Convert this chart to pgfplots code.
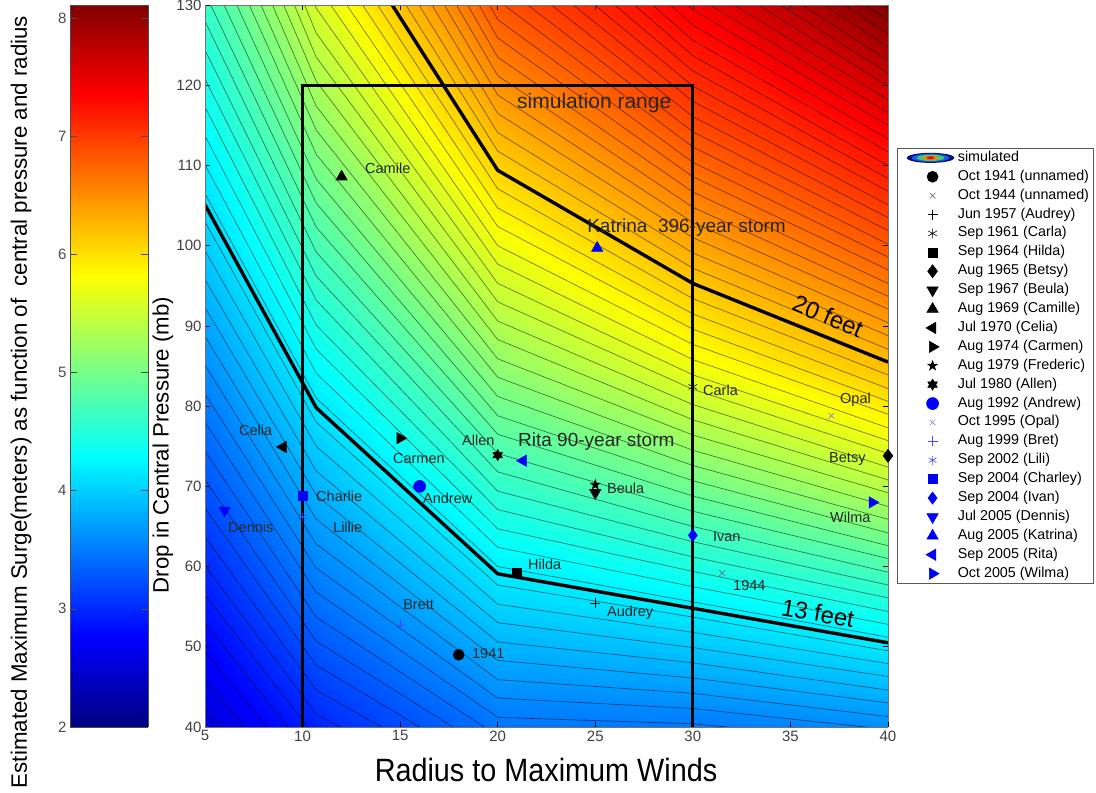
\documentclass[border=0pt]{standalone}
\usepackage{fontspec}
\setmainfont{Liberation Sans}
\usepackage{pgfplots}
\pgfplotsset{compat=1.18}
\newcommand{\fs}[1]{\fontsize{#1}{#1}\selectfont}
\definecolor{sblue}{RGB}{0,0,255}
\definecolor{gx}{RGB}{110,110,135}
\definecolor{opal}{RGB}{135,135,205}
\definecolor{lb}{RGB}{70,70,255}
\definecolor{e1}{RGB}{10,10,125}
\definecolor{e2}{RGB}{20,90,230}
\definecolor{e3}{RGB}{60,200,120}
\definecolor{e4}{RGB}{235,140,0}
\definecolor{e5}{RGB}{200,25,10}
\pgfdeclareplotmark{fivestar}{%
  \pgfpathmoveto{\pgfpointpolar{90}{\pgfplotmarksize}}%
  \pgfpathlineto{\pgfpointpolar{126}{0.4\pgfplotmarksize}}%
  \pgfpathlineto{\pgfpointpolar{162}{\pgfplotmarksize}}%
  \pgfpathlineto{\pgfpointpolar{198}{0.4\pgfplotmarksize}}%
  \pgfpathlineto{\pgfpointpolar{234}{\pgfplotmarksize}}%
  \pgfpathlineto{\pgfpointpolar{270}{0.4\pgfplotmarksize}}%
  \pgfpathlineto{\pgfpointpolar{306}{\pgfplotmarksize}}%
  \pgfpathlineto{\pgfpointpolar{342}{0.4\pgfplotmarksize}}%
  \pgfpathlineto{\pgfpointpolar{18}{\pgfplotmarksize}}%
  \pgfpathlineto{\pgfpointpolar{54}{0.4\pgfplotmarksize}}%
  \pgfpathclose\pgfusepathqfillstroke}
\pgfdeclareplotmark{sixstar}{%
  \pgfpathmoveto{\pgfpointpolar{90}{\pgfplotmarksize}}%
  \pgfpathlineto{\pgfpointpolar{120}{0.577\pgfplotmarksize}}%
  \pgfpathlineto{\pgfpointpolar{150}{\pgfplotmarksize}}%
  \pgfpathlineto{\pgfpointpolar{180}{0.577\pgfplotmarksize}}%
  \pgfpathlineto{\pgfpointpolar{210}{\pgfplotmarksize}}%
  \pgfpathlineto{\pgfpointpolar{240}{0.577\pgfplotmarksize}}%
  \pgfpathlineto{\pgfpointpolar{270}{\pgfplotmarksize}}%
  \pgfpathlineto{\pgfpointpolar{300}{0.577\pgfplotmarksize}}%
  \pgfpathlineto{\pgfpointpolar{330}{\pgfplotmarksize}}%
  \pgfpathlineto{\pgfpointpolar{0}{0.577\pgfplotmarksize}}%
  \pgfpathlineto{\pgfpointpolar{30}{\pgfplotmarksize}}%
  \pgfpathlineto{\pgfpointpolar{60}{0.577\pgfplotmarksize}}%
  \pgfpathclose\pgfusepathqfillstroke}
\pgfplotsset{
  stm/.style={only marks, line width=0.6pt,
    legend image code/.code={\path (0pt,-5pt) (56pt,5pt);
      \draw[##1] plot coordinates {(33pt,0pt)};}},
}
\begin{document}
\begin{tikzpicture}
\path[use as bounding box] (0pt,0pt) rectangle (1096pt,793pt);

% ---------- colour bar ----------
\begin{axis}[
  at={(70pt,66pt)}, anchor=south west, scale only axis,
  width=78pt, height=722pt, view={0}{90},
  xmin=0, xmax=1, ymin=2, ymax=8.11,
  xtick=\empty, ztick=\empty, ytick={2,3,...,8},
  tick align=inside, major tick length=7pt,
  tick style={black!70, line width=0.6pt},
  axis line style={black!70, line width=0.6pt},
  yticklabel style={font=\fs{15}, text=black!70},
  /pgf/number format/assume math mode=true,
  colormap/jet, point meta min=2, point meta max=8.11,
  axis on top]
\addplot3[surf, shader=interp, mesh/cols=2, mesh/rows=14] table[row sep=\\]{
x y z\\
0 2 2\\ 1 2 2\\
0 2.5 2.5\\ 1 2.5 2.5\\
0 3 3\\ 1 3 3\\
0 3.5 3.5\\ 1 3.5 3.5\\
0 4 4\\ 1 4 4\\
0 4.5 4.5\\ 1 4.5 4.5\\
0 5 5\\ 1 5 5\\
0 5.5 5.5\\ 1 5.5 5.5\\
0 6 6\\ 1 6 6\\
0 6.5 6.5\\ 1 6.5 6.5\\
0 7 7\\ 1 7 7\\
0 7.5 7.5\\ 1 7.5 7.5\\
0 8 8\\ 1 8 8\\
0 8.11 8.11\\ 1 8.11 8.11\\
};
\end{axis}

% ---------- main plot ----------
\begin{axis}[
  at={(205pt,66pt)}, anchor=south west, scale only axis,
  width=683pt, height=722pt, view={0}{90},
  xmin=5, xmax=40, ymin=40, ymax=130,
  xtick={5,10,...,40}, ytick={40,50,...,130}, ztick=\empty,
  tick align=inside, major tick length=5pt,
  tick style={black, line width=0.6pt},
  axis line style={black!55, line width=0.6pt},
  tick label style={font=\fs{15}, text=black!75},
  /pgf/number format/assume math mode=true,
  colormap/jet, point meta min=1.5, point meta max=8.4,
  axis on top,
  legend cell align=left,
  legend style={at={(1.01318,0.80194)}, anchor=north west,
    draw=black!65, line width=0.6pt, fill=white,
    inner xsep=2pt, inner ysep=3pt, font=\fs{14.3},
    row sep=5.9pt, column sep=0pt,
    nodes={inner xsep=2pt, inner ysep=0pt, text height=10pt, text depth=3pt}},
]
% simulated surge field (colour)
\addplot3[surf, shader=interp, forget plot, mesh/cols=9, mesh/rows=7] table[row sep=\\]{
x y z\\
5 40 2.10\\ 7.85 40 2.35\\ 10.7 40 2.60\\ 15.35 40 2.88\\ 20 40 3.15\\ 25 40 3.16\\ 30 40 3.18\\ 35 40 3.25\\ 40 40 3.32\\
5 55 2.50\\ 7.85 55 2.80\\ 10.7 55 3.10\\ 15.35 55 3.44\\ 20 55 3.79\\ 25 55 3.88\\ 30 55 3.99\\ 35 55 4.12\\ 40 55 4.26\\
5 70 2.92\\ 7.85 70 3.25\\ 10.7 70 3.58\\ 15.35 70 4.00\\ 20 70 4.42\\ 25 70 4.62\\ 30 70 4.85\\ 35 70 5.10\\ 40 70 5.35\\
5 85 3.33\\ 7.85 85 3.70\\ 10.7 85 4.08\\ 15.35 85 4.57\\ 20 85 5.06\\ 25 85 5.38\\ 30 85 5.72\\ 35 85 6.00\\ 40 85 6.25\\
5 100 3.75\\ 7.85 100 4.15\\ 10.7 100 4.57\\ 15.35 100 5.13\\ 20 100 5.70\\ 25 100 6.05\\ 30 100 6.40\\ 35 100 6.68\\ 40 100 6.95\\
5 115 4.10\\ 7.85 115 4.58\\ 10.7 115 5.05\\ 15.35 115 5.70\\ 20 115 6.34\\ 25 115 6.70\\ 30 115 7.05\\ 35 115 7.30\\ 40 115 7.60\\
5 130 4.45\\ 7.85 130 5.00\\ 10.7 130 5.55\\ 15.35 130 6.28\\ 20 130 6.98\\ 25 130 7.30\\ 30 130 7.60\\ 35 130 8.00\\ 40 130 8.40\\
};
% contour lines (every 0.1 m)
\addplot[forget plot, black, opacity=0.55, line width=0.65pt, unbounded coords=jump] table[row sep=\\]{
x y\\
5 42.3\\ 10.7 26.4\\ 20 17.7\\ 30 21.5\\ 40 21.7\\ nan nan\\
5 45.8\\ 10.7 29.5\\ 20 20.1\\ 30 23.4\\ 40 23.4\\ nan nan\\
5 49.4\\ 10.7 32.5\\ 20 22.4\\ 30 25.3\\ 40 25.0\\ nan nan\\
5 53.0\\ 10.7 35.5\\ 20 24.8\\ 30 27.2\\ 40 26.6\\ nan nan\\
5 56.5\\ 10.7 38.6\\ 20 27.1\\ 30 29.1\\ 40 28.3\\ nan nan\\
5 60.1\\ 10.7 41.6\\ 20 29.5\\ 30 31.0\\ 40 29.9\\ nan nan\\
5 63.7\\ 10.7 44.6\\ 20 31.8\\ 30 32.9\\ 40 31.5\\ nan nan\\
5 67.3\\ 10.7 47.7\\ 20 34.2\\ 30 34.7\\ 40 33.2\\ nan nan\\
5 70.8\\ 10.7 50.7\\ 20 36.5\\ 30 36.6\\ 40 34.8\\ nan nan\\
5 74.4\\ 10.7 53.7\\ 20 38.9\\ 30 38.5\\ 40 36.4\\ nan nan\\
5 78.0\\ 10.7 56.8\\ 20 41.2\\ 30 40.4\\ 40 38.1\\ nan nan\\
5 81.5\\ 10.7 59.8\\ 20 43.6\\ 30 42.3\\ 40 39.7\\ nan nan\\
5 85.1\\ 10.7 62.8\\ 20 45.9\\ 30 44.2\\ 40 41.3\\ nan nan\\
5 88.7\\ 10.7 65.9\\ 20 48.3\\ 30 46.1\\ 40 43.0\\ nan nan\\
5 92.3\\ 10.7 68.9\\ 20 50.6\\ 30 48.0\\ 40 44.6\\ nan nan\\
5 95.8\\ 10.7 71.9\\ 20 53.0\\ 30 49.9\\ 40 46.3\\ nan nan\\
5 99.4\\ 10.7 75.0\\ 20 55.3\\ 30 51.8\\ 40 47.9\\ nan nan\\
5 103.0\\ 10.7 78.0\\ 20 57.7\\ 30 53.7\\ 40 49.5\\ nan nan\\
5 106.5\\ 10.7 81.0\\ 20 60.0\\ 30 55.6\\ 40 51.2\\ nan nan\\
5 110.1\\ 10.7 84.1\\ 20 62.4\\ 30 57.5\\ 40 52.8\\ nan nan\\
5 113.7\\ 10.7 87.1\\ 20 64.7\\ 30 59.4\\ 40 54.4\\ nan nan\\
5 117.3\\ 10.7 90.1\\ 20 67.1\\ 30 61.2\\ 40 56.1\\ nan nan\\
5 120.8\\ 10.7 93.2\\ 20 69.4\\ 30 63.1\\ 40 57.7\\ nan nan\\
5 124.4\\ 10.7 96.2\\ 20 71.8\\ 30 65.0\\ 40 59.3\\ nan nan\\
5 128.0\\ 10.7 99.2\\ 20 74.1\\ 30 66.9\\ 40 61.0\\ nan nan\\
5 131.5\\ 10.7 102.3\\ 20 76.5\\ 30 68.8\\ 40 62.6\\ nan nan\\
5 135.1\\ 10.7 105.3\\ 20 78.8\\ 30 70.7\\ 40 64.2\\ nan nan\\
5 138.7\\ 10.7 108.3\\ 20 81.2\\ 30 72.6\\ 40 65.9\\ nan nan\\
5 142.3\\ 10.7 111.4\\ 20 83.6\\ 30 74.5\\ 40 67.5\\ nan nan\\
5 145.8\\ 10.7 114.4\\ 20 85.9\\ 30 76.4\\ 40 69.2\\ nan nan\\
5 149.4\\ 10.7 117.4\\ 20 88.3\\ 30 78.3\\ 40 70.8\\ nan nan\\
5 153.0\\ 10.7 120.5\\ 20 90.6\\ 30 80.2\\ 40 72.4\\ nan nan\\
5 156.5\\ 10.7 123.5\\ 20 93.0\\ 30 82.1\\ 40 74.1\\ nan nan\\
5 160.1\\ 10.7 126.5\\ 20 95.3\\ 30 83.9\\ 40 75.7\\ nan nan\\
5 163.7\\ 10.7 129.6\\ 20 97.7\\ 30 85.8\\ 40 77.3\\ nan nan\\
5 167.2\\ 10.7 132.6\\ 20 100.0\\ 30 87.7\\ 40 79.0\\ nan nan\\
5 170.8\\ 10.7 135.6\\ 20 102.4\\ 30 89.6\\ 40 80.6\\ nan nan\\
5 174.4\\ 10.7 138.7\\ 20 104.7\\ 30 91.5\\ 40 82.2\\ nan nan\\
5 178.0\\ 10.7 141.7\\ 20 107.1\\ 30 93.4\\ 40 83.9\\ nan nan\\
5 181.5\\ 10.7 144.7\\ 20 109.4\\ 30 95.3\\ 40 85.5\\ nan nan\\
5 185.1\\ 10.7 147.8\\ 20 111.8\\ 30 97.2\\ 40 87.1\\ nan nan\\
5 188.7\\ 10.7 150.8\\ 20 114.1\\ 30 99.1\\ 40 88.8\\ nan nan\\
5 192.2\\ 10.7 153.8\\ 20 116.5\\ 30 101.0\\ 40 90.4\\ nan nan\\
5 195.8\\ 10.7 156.9\\ 20 118.8\\ 30 102.9\\ 40 92.1\\ nan nan\\
5 199.4\\ 10.7 159.9\\ 20 121.2\\ 30 104.8\\ 40 93.7\\ nan nan\\
5 203.0\\ 10.7 162.9\\ 20 123.5\\ 30 106.7\\ 40 95.3\\ nan nan\\
5 206.5\\ 10.7 166.0\\ 20 125.9\\ 30 108.6\\ 40 97.0\\ nan nan\\
5 210.1\\ 10.7 169.0\\ 20 128.2\\ 30 110.4\\ 40 98.6\\ nan nan\\
5 213.7\\ 10.7 172.0\\ 20 130.6\\ 30 112.3\\ 40 100.2\\ nan nan\\
5 217.2\\ 10.7 175.1\\ 20 132.9\\ 30 114.2\\ 40 101.9\\ nan nan\\
5 220.8\\ 10.7 178.1\\ 20 135.3\\ 30 116.1\\ 40 103.5\\ nan nan\\
5 224.4\\ 10.7 181.1\\ 20 137.6\\ 30 118.0\\ 40 105.1\\ nan nan\\
5 228.0\\ 10.7 184.2\\ 20 140.0\\ 30 119.9\\ 40 106.8\\ nan nan\\
5 231.5\\ 10.7 187.2\\ 20 142.3\\ 30 121.8\\ 40 108.4\\ nan nan\\
5 235.1\\ 10.7 190.2\\ 20 144.7\\ 30 123.7\\ 40 110.0\\ nan nan\\
5 238.7\\ 10.7 193.3\\ 20 147.0\\ 30 125.6\\ 40 111.7\\ nan nan\\
5 242.2\\ 10.7 196.3\\ 20 149.4\\ 30 127.5\\ 40 113.3\\ nan nan\\
5 245.8\\ 10.7 199.3\\ 20 151.7\\ 30 129.4\\ 40 115.0\\ nan nan\\
5 249.4\\ 10.7 202.4\\ 20 154.1\\ 30 131.3\\ 40 116.6\\ nan nan\\
5 253.0\\ 10.7 205.4\\ 20 156.4\\ 30 133.2\\ 40 118.2\\ nan nan\\
5 256.5\\ 10.7 208.4\\ 20 158.8\\ 30 135.1\\ 40 119.9\\ nan nan\\
5 260.1\\ 10.7 211.5\\ 20 161.1\\ 30 137.0\\ 40 121.5\\ nan nan\\
5 263.7\\ 10.7 214.5\\ 20 163.5\\ 30 138.8\\ 40 123.1\\ nan nan\\
5 267.2\\ 10.7 217.5\\ 20 165.8\\ 30 140.7\\ 40 124.8\\ nan nan\\
5 270.8\\ 10.7 220.6\\ 20 168.2\\ 30 142.6\\ 40 126.4\\ nan nan\\
5 274.4\\ 10.7 223.6\\ 20 170.5\\ 30 144.5\\ 40 128.1\\ nan nan\\
5 278.0\\ 10.7 226.6\\ 20 172.9\\ 30 146.4\\ 40 129.7\\
};
% 13 ft and 20 ft lines, simulation range box
\addplot[forget plot, black, line width=3.4pt] coordinates {(5,105.1) (10.7,79.8) (20,59.1) (40,50.5)};
\addplot[forget plot, black, line width=3.4pt] coordinates {(14.07,132) (20,109.4) (30,95.3) (40,85.5)};
\addplot[forget plot, black, line width=3pt] coordinates {(10,36) (10,120) (30,120) (30,36)};

% legend entry for the field
\addlegendimage{legend image code/.code={\path (0pt,-5pt) (56pt,5pt);
  \fill[e1, draw=none] (31pt,0pt) ellipse (24pt and 5pt);
  \fill[e2, draw=none] (31pt,0pt) ellipse (19pt and 4pt);
  \fill[e3, draw=none] (31pt,0pt) ellipse (14pt and 3.2pt);
  \fill[e4, draw=none] (31pt,0pt) ellipse (8pt and 2.3pt);
  \fill[e5, draw=none] (31pt,0pt) ellipse (4pt and 1.5pt);}}
\addlegendentry{simulated}

% historical storms
\addplot[stm, black, mark=*, mark size=5.5pt] coordinates {(18,49.0)};
\addlegendentry{Oct 1941 (unnamed)}
\addplot[stm, gx, mark=x, mark size=4pt] coordinates {(31.5,59.2)};
\addlegendentry{Oct 1944 (unnamed)}
\addplot[stm, black, mark=+, mark size=5pt] coordinates {(25,55.4)};
\addlegendentry{Jun 1957 (Audrey)}
\addplot[stm, black, mark=asterisk, mark size=5pt] coordinates {(30,82.4)};
\addlegendentry{Sep 1961 (Carla)}
\addplot[stm, black, mark=square*, mark size=4.5pt] coordinates {(21,59.2)};
\addlegendentry{Sep 1964 (Hilda)}
\addplot[stm, black, mark=diamond*, mark size=6.5pt] coordinates {(40,73.8)};
\addlegendentry{Aug 1965 (Betsy)}
\addplot[stm, black, mark=triangle*, mark size=6.5pt, mark options={rotate=180}] coordinates {(25,69.2)};
\addlegendentry{Sep 1967 (Beula)}
\addplot[stm, black, mark=triangle*, mark size=6.5pt] coordinates {(12,108.6)};
\addlegendentry{Aug 1969 (Camille)}
\addplot[stm, black, mark=triangle*, mark size=6.5pt, mark options={rotate=90}] coordinates {(9,74.9)};
\addlegendentry{Jul 1970 (Celia)}
\addplot[stm, black, mark=triangle*, mark size=6.5pt, mark options={rotate=270}] coordinates {(15,76.0)};
\addlegendentry{Aug 1974 (Carmen)}
\addplot[stm, black, mark=fivestar, mark size=5pt] coordinates {(25,70.2)};
\addlegendentry{Aug 1979 (Frederic)}
\addplot[stm, black, mark=sixstar, mark size=5.5pt] coordinates {(20,73.9)};
\addlegendentry{Jul 1980 (Allen)}
\addplot[stm, sblue, mark=*, mark size=6pt] coordinates {(16,70.0)};
\addlegendentry{Aug 1992 (Andrew)}
\addplot[stm, opal, mark=x, mark size=4pt] coordinates {(37.1,78.8)};
\addlegendentry{Oct 1995 (Opal)}
\addplot[stm, lb, mark=+, mark size=5pt] coordinates {(15,52.7)};
\addlegendentry{Aug 1999 (Bret)}
\addplot[stm, lb, mark=asterisk, mark size=4.5pt] coordinates {(10,66.2)};
\addlegendentry{Sep 2002 (Lili)}
\addplot[stm, sblue, mark=square*, mark size=4.5pt] coordinates {(10,68.8)};
\addlegendentry{Sep 2004 (Charley)}
\addplot[stm, sblue, mark=diamond*, mark size=6pt] coordinates {(30,63.9)};
\addlegendentry{Sep 2004 (Ivan)}
\addplot[stm, sblue, mark=triangle*, mark size=6.5pt, mark options={rotate=180}] coordinates {(6,67.0)};
\addlegendentry{Jul 2005 (Dennis)}
\addplot[stm, sblue, mark=triangle*, mark size=6.5pt] coordinates {(25.1,99.7)};
\addlegendentry{Aug 2005 (Katrina)}
\addplot[stm, sblue, mark=triangle*, mark size=6.5pt, mark options={rotate=90}] coordinates {(21.3,73.2)};
\addlegendentry{Sep 2005 (Rita)}
\addplot[stm, sblue, mark=triangle*, mark size=6.5pt, mark options={rotate=270}] coordinates {(39.2,68.0)};
\addlegendentry{Oct 2005 (Wilma)}

% annotations
\begin{scope}[every node/.style={font=\fs{14.5}, text=black!85, inner sep=0pt, anchor=west}]
\node at (axis cs:18.68,49.2) {1941};
\node at (axis cs:32.06,57.7) {1944};
\node at (axis cs:25.6,54.2) {Audrey};
\node at (axis cs:30.52,82.0) {Carla};
\node at (axis cs:21.55,60.3) {Hilda};
\node at (axis cs:36.98,73.4) {Betsy};
\node at (axis cs:25.6,69.8) {Beula};
\node at (axis cs:13.2,109.7) {Camile};
\node at (axis cs:6.74,77.0) {Celia};
\node at (axis cs:14.63,73.5) {Carmen};
\node at (axis cs:18.17,75.8) {Allen};
\node at (axis cs:16.17,68.5) {Andrew};
\node at (axis cs:37.54,80.8) {Opal};
\node at (axis cs:15.15,55.3) {Brett};
\node at (axis cs:11.56,64.9) {Lillie};
\node at (axis cs:10.69,68.7) {Charlie};
\node at (axis cs:31.03,63.7) {Ivan};
\node at (axis cs:6.18,64.9) {Dennis};
\node at (axis cs:37.03,66.2) {Wilma};
\end{scope}
\node[anchor=west, inner sep=0pt, font=\fs{19}, text=black!85] at (axis cs:24.58,102.2) {Katrina\ \ 396-year storm};
\node[anchor=west, inner sep=0pt, font=\fs{19}, text=black!85] at (axis cs:21.04,75.6) {Rita 90-year storm};
\node[anchor=west, inner sep=0pt, font=\fs{21}, text=black!85] at (axis cs:20.99,117.8) {simulation range};
\node[rotate=-23, inner sep=0pt, font=\fs{24}] at (axis cs:36.93,91.2) {20 feet};
\node[rotate=-10, inner sep=0pt, font=\fs{24}] at (axis cs:36.41,54.2) {13 feet};
\end{axis}

% axis titles
\node[rotate=90, font=\fs{22.3}] at (21pt,391pt) {Estimated Maximum Surge(meters) as function of\ \ central pressure and radius};
\node[rotate=90, font=\fs{22.2}] at (163pt,348pt) {Drop in Central Pressure (mb)};
\node[font=\fs{28.8}, yscale=1.12] at (546pt,23pt) {Radius to Maximum Winds};
\end{tikzpicture}
\end{document}
